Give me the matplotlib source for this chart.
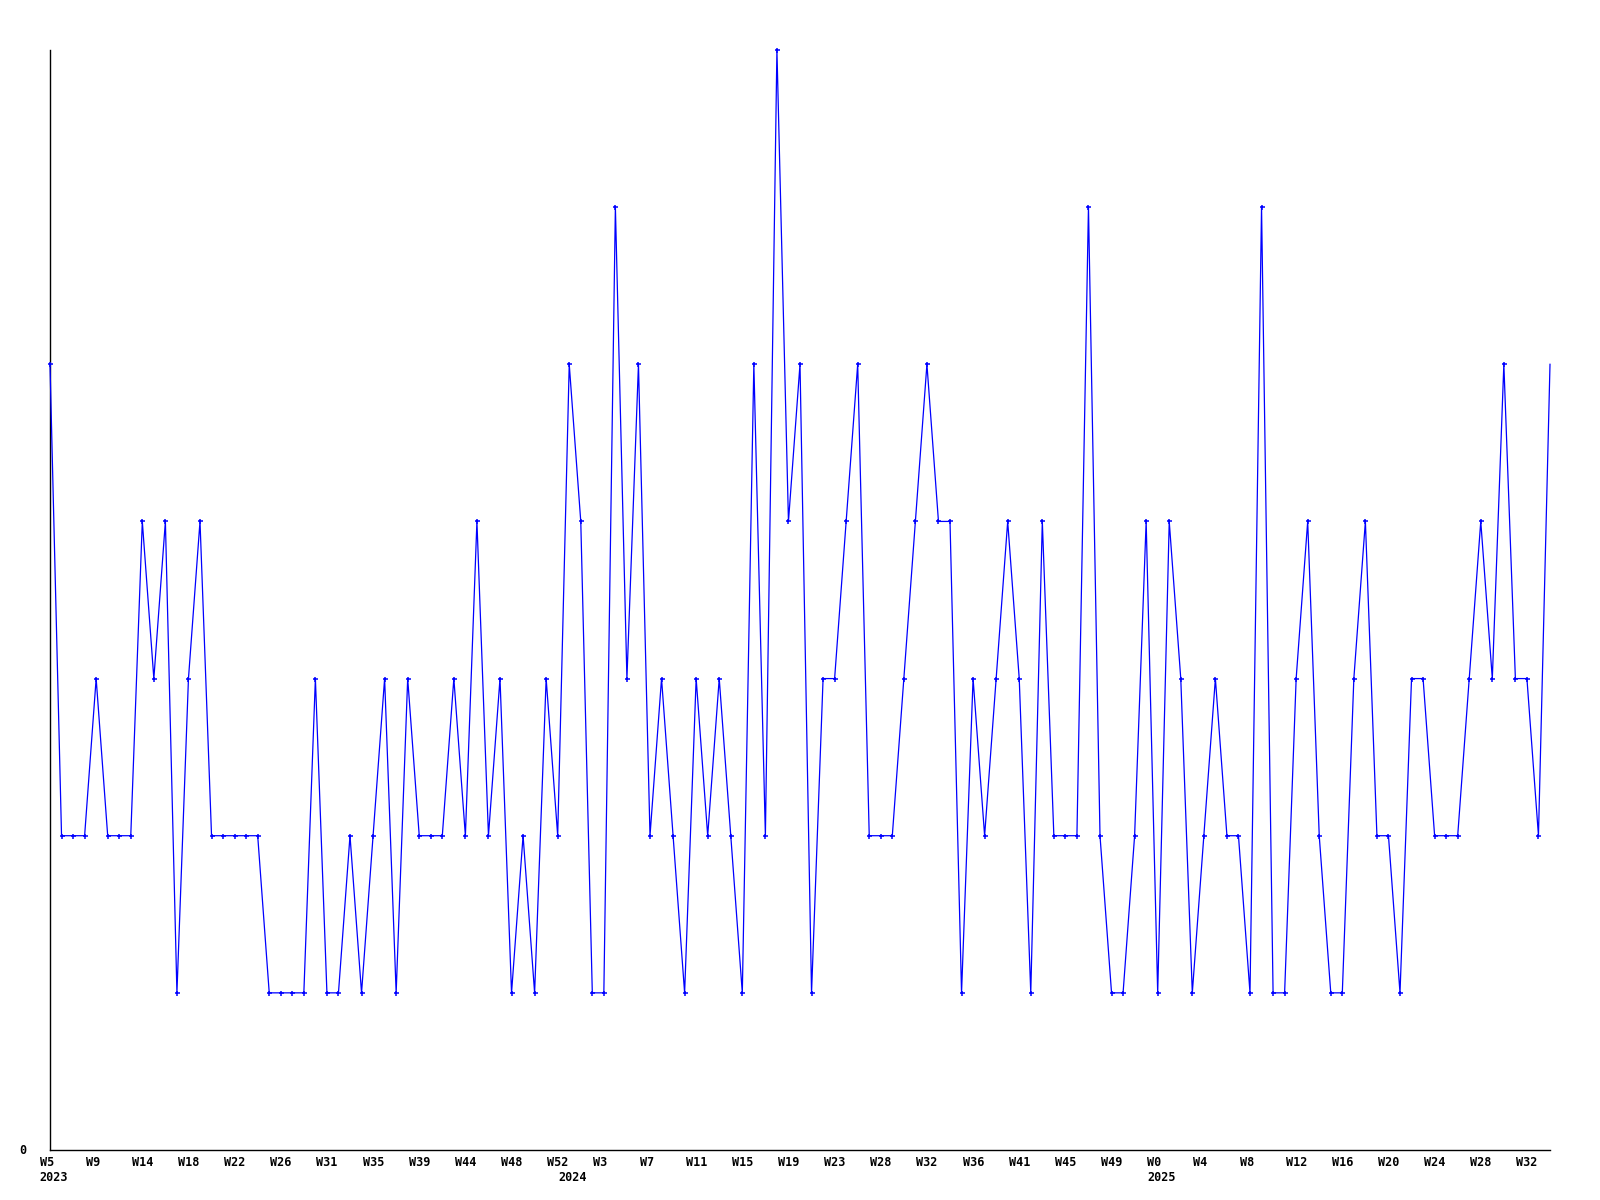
import matplotlib
matplotlib.use("Agg")
import matplotlib.pyplot as plt
import numpy as np

# ---- data ----
values = [5, 2, 2, 2, 3, 2, 2, 2, 4, 3, 4, 1, 3, 4, 2, 2, 2, 2, 2, 1,
          1, 1, 1, 3, 1, 1, 2, 1, 2, 3, 1, 3, 2, 2, 2, 3, 2, 4, 2, 3,
          1, 2, 1, 3, 2, 5, 4, 1, 1, 6, 3, 5, 2, 3, 2, 1, 3, 2, 3, 2,
          1, 5, 2, 7, 4, 5, 1, 3, 3, 4, 5, 2, 2, 2, 3, 4, 5, 4, 4, 1,
          3, 2, 3, 4, 3, 1, 4, 2, 2, 2, 6, 2, 1, 1, 2, 4, 1, 4, 3, 1,
          2, 3, 2, 2, 1, 6, 1, 1, 3, 4, 2, 1, 1, 3, 4, 2, 2, 1, 3, 3,
          2, 2, 2, 3, 4, 3, 5, 3, 3, 2, 5]
week_labels = ["W5", "W9", "W14", "W18", "W22", "W26", "W31", "W35", "W39",
               "W44", "W48", "W52", "W3", "W7", "W11", "W15", "W19", "W23",
               "W28", "W32", "W36", "W41", "W45", "W49", "W0", "W4", "W8",
               "W12", "W16", "W20", "W24", "W28", "W32"]
label_step = 4
year_labels = ["2023", "2024", "2025"]
year_start_idx = [0, 45, 96]
y_labels = ["0"]

# ---- figure ----
W, H, DPI = 1600, 1200, 100
fig = plt.figure(figsize=(W / DPI, H / DPI), dpi=DPI)
ax = fig.add_axes([50 / W, 50 / H, 1500 / W, 1100 / H])

x = np.arange(len(values))
ax.plot(x, values, color="#0000ff", lw=0.9, marker="+", ms=3.6, mew=1.1,
        markevery=list(range(len(values) - 1)), clip_on=False, zorder=3)

ax.set_xlim(0, len(values) - 1)
ax.set_ylim(0, 7)
ax.set_xticks([])
ax.set_yticks([])
for s in ("top", "right"):
    ax.spines[s].set_visible(False)
for s in ("left", "bottom"):
    ax.spines[s].set_color("black")
    ax.spines[s].set_linewidth(1.0)

px = 72.0 / DPI
font = dict(family="DejaVu Sans Mono", fontweight="bold", fontsize=8.5, color="black")

for i, lab in enumerate(week_labels):
    ax.annotate(lab, xy=(i * label_step, 0), xycoords=("data", "axes fraction"),
                xytext=(-10.5 * px, -6 * px), textcoords="offset points",
                ha="left", va="top", annotation_clip=False, **font)
for idx, lab in zip(year_start_idx, year_labels):
    ax.annotate(lab, xy=(idx, 0), xycoords=("data", "axes fraction"),
                xytext=(-10.5 * px, -21 * px), textcoords="offset points",
                ha="left", va="top", annotation_clip=False, **font)
ax.annotate(y_labels[0], xy=(0, 0), xycoords="axes fraction",
            xytext=(-24 * px, 0), textcoords="offset points",
            ha="right", va="center", annotation_clip=False, **font)

fig.savefig("out.png", dpi=DPI, facecolor="white")
